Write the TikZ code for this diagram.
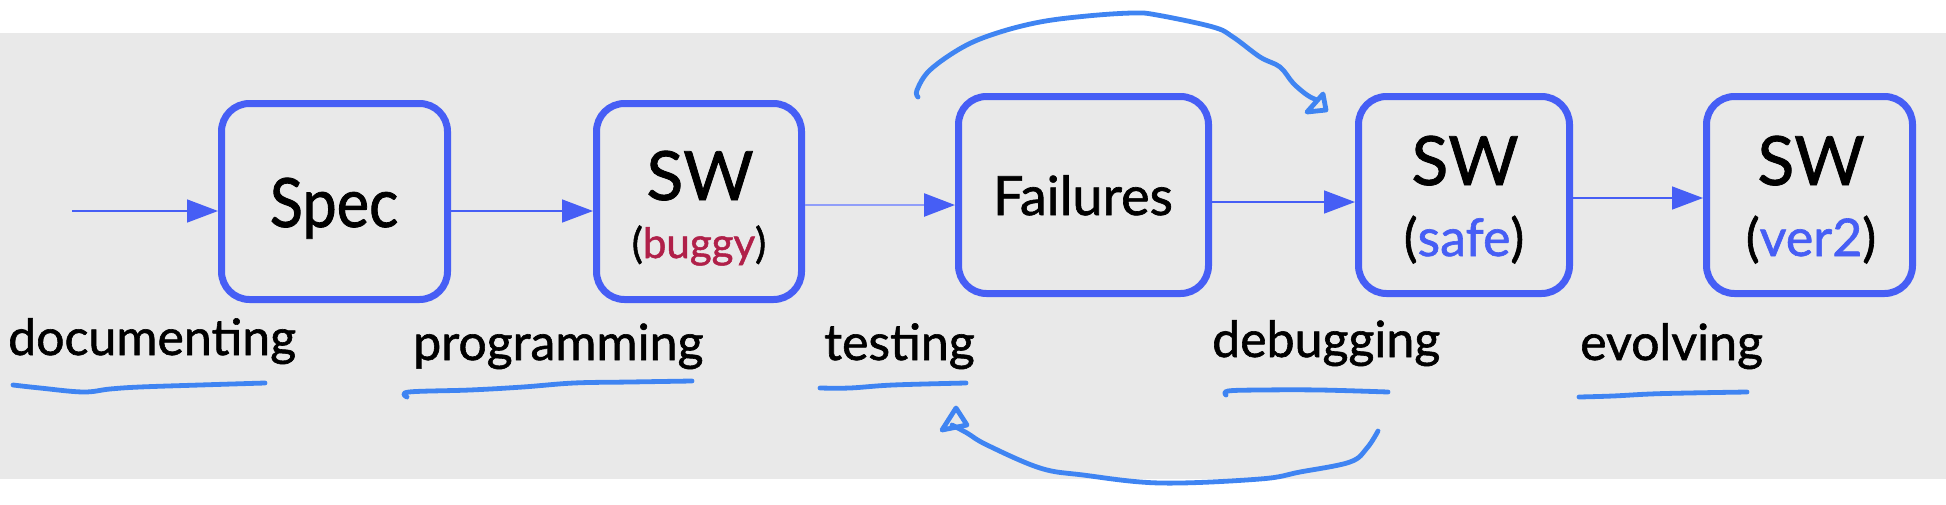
\documentclass[tikz,border=0pt]{standalone}
\usepackage{fontspec}
\setmainfont{Lato}[FakeBold=1.2]
\newfontfamily\narrowfont{Lato}[FakeBold=1.2, FakeStretch=0.9]
\usetikzlibrary{arrows.meta}
\definecolor{nodeblue}{HTML}{465EF5}
\definecolor{penblue}{HTML}{3F84F2}
\definecolor{buggyred}{HTML}{B02049}
\definecolor{bandgray}{HTML}{E9E9E9}
\tikzset{
  stagebox/.style={draw=nodeblue, line width=7pt, rounded corners=28pt, rectangle, inner sep=0pt},
  flow/.style={draw=nodeblue, line width=1.5pt, -{Triangle[length=31pt,width=23pt,color=nodeblue]}},
  bigtxt/.style={anchor=base, inner sep=0pt, font=\fontsize{68}{80}\selectfont},
  midtxt/.style={anchor=base, inner sep=0pt, font=\fontsize{54}{64}\selectfont},
  subtxt/.style={anchor=base, inner sep=0pt, font=\fontsize{42}{50}\selectfont},
  bigsubtxt/.style={anchor=base, inner sep=0pt, font=\fontsize{52}{62}\selectfont},
  lbl/.style={anchor=base west, inner sep=0pt, font=\fontsize{50}{60}\selectfont},
  pen/.style={draw=penblue, line width=4.8pt, line cap=round, line join=round}
}
\begin{document}
\begin{tikzpicture}[x=1pt,y=-1pt]
\useasboundingbox (0,0) rectangle (1946,504);
\fill[bandgray] (0,33) rectangle (1946,479);

% boxes
\node[stagebox, minimum width=226pt, minimum height=196pt] (spec) at (334.5,201.5) {};
\node[stagebox, minimum width=205pt, minimum height=196pt] (buggy) at (699,201.5) {};
\node[stagebox, minimum width=250pt, minimum height=197pt] (fail) at (1083.5,195) {};
\node[stagebox, minimum width=211pt, minimum height=197pt] (safe) at (1464,195) {};
\node[stagebox, minimum width=206pt, minimum height=197pt] (ver) at (1809.5,195) {};

% box texts
\node[bigtxt, font=\fontsize{68}{80}\narrowfont] (spectxt) at (334,227) {Spec};
\node[bigtxt] (buggysw) at (700,200) {SW};
\node[subtxt] (buggysub) at (699,258) {(\textcolor{buggyred}{buggy})};
\node[midtxt] (failtxt) at (1083,215) {Failures};
\node[bigtxt] (safesw) at (1465,185) {SW};
\node[bigsubtxt] (safesub) at (1464,256) {(\textcolor{nodeblue}{safe})};
\node[bigtxt] (versw) at (1811,185) {SW};
\node[bigsubtxt] (versub) at (1811,256) {(\textcolor{nodeblue}{ver2})};

% flow arrows
\coordinate (start) at (72,211);
\draw[flow] (start) -- (start -| spec.west);
\draw[flow] (spec.east |- 0,211) -- (buggy.west |- 0,211);
\draw[flow, draw=nodeblue!60, line width=2.5pt] (buggy.east |- 0,205) -- (fail.west |- 0,205);
\draw[flow] (fail.east |- 0,202) -- (safe.west |- 0,202);
\draw[flow] (safe.east |- 0,198) -- (ver.west |- 0,198);

% labels
\node[lbl] (ldoc) at (8,355) {documenting};
\node[lbl] (lprog) at (413,360) {programming};
\node[lbl] (ltest) at (824,360) {testing};
\node[lbl] (ldebug) at (1212,357) {debugging};
\node[lbl] (levol) at (1580,360) {evolving};

% hand-drawn underlines
\draw[pen] plot[smooth, tension=0.6] coordinates {(13,385) (40,388) (83,392) (110,389) (140,387) (200,385) (265,383)};
\draw[pen] plot[smooth, tension=0.6] coordinates {(407,397) (409,392) (470,390) (523,387) (574,383) (630,382) (692,381)};
\draw[pen] plot[smooth, tension=0.6] coordinates {(820,388) (850,388) (893,385) (966,383)};
\draw[pen] plot[smooth, tension=0.6] coordinates {(1226,395) (1228,391) (1260,390) (1320,390) (1388,392)};
\draw[pen] plot[smooth, tension=0.6] coordinates {(1579,397) (1613,396) (1650,394) (1688,393) (1747,392)};

% hand-drawn loop arrows
\draw[pen] plot[smooth, tension=0.6] coordinates {(918,97) (917,90) (930,70) (963,47) (997,33) (1040,22) (1087,16) (1133,13) (1157,15) (1213,27) (1233,37) (1260,57) (1280,67) (1293,83) (1307,95) (1317,100)};
\draw[pen] (1323,94) -- (1307,112) -- (1326,110) -- cycle;
\draw[pen] plot[smooth, tension=0.6] coordinates {(1378,431) (1367,448) (1350,462) (1300,472) (1260,479) (1160,483) (1083,475) (1040,468) (987,445) (967,433) (952,425)};
\draw[pen] (942,430) -- (956,408) -- (967,425) -- cycle;
\end{tikzpicture}
\end{document}
